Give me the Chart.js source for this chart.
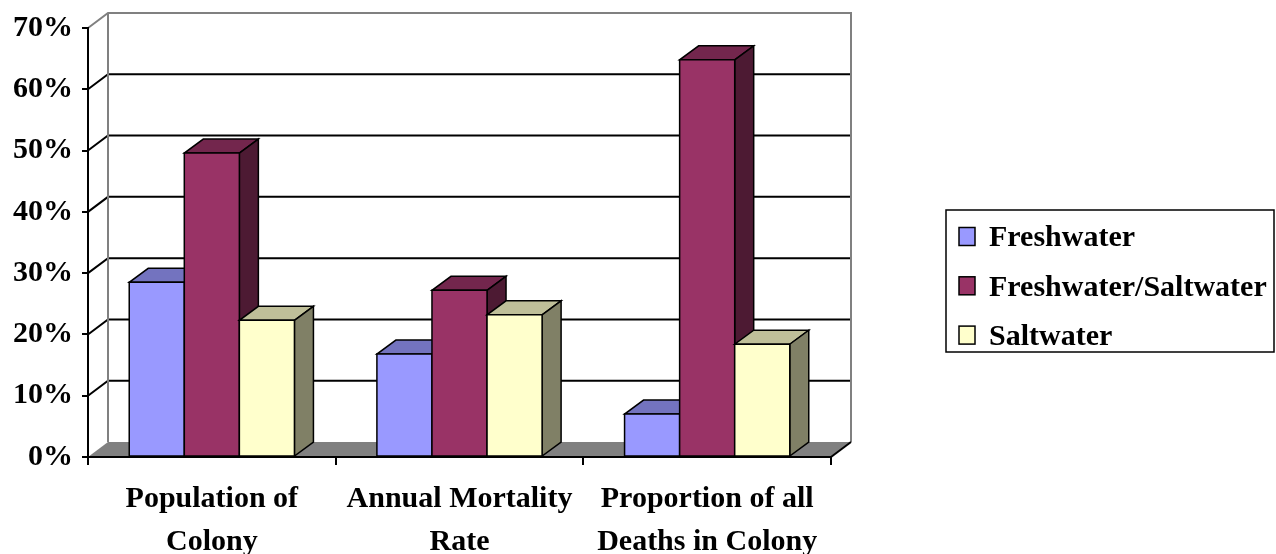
<!DOCTYPE html>
<html>
<head>
<meta charset="utf-8">
<script src="https://cdn.jsdelivr.net/npm/chart.js@4/dist/chart.umd.min.js"></script>
<style>
  html, body { margin: 0; padding: 0; background: #ffffff; }
  #wrap { width: 1276px; height: 554px; position: relative; }
</style>
</head>
<body>
<div id="wrap"><canvas id="chart" width="1276" height="554"></canvas></div>
<script>
// Category labels (two lines each) and series values, in percent
const categories = [
  ['Population of', 'Colony'],
  ['Annual Mortality', 'Rate'],
  ['Proportion of all', 'Deaths in Colony']
];
const seriesNames = ['Freshwater', 'Freshwater/Saltwater', 'Saltwater'];
const freshwater = [28.5, 16.8, 7.0];
const freshSalt = [49.6, 27.2, 64.8];
const saltwater = [22.3, 23.2, 18.4];
const yTickValues = [0, 10, 20, 30, 40, 50, 60, 70];

// Face colours for the pseudo-3D columns: front, top, side
const frontColors = ['#9999FF', '#993366', '#FFFFCC'];
const topColors = ['#7373BF', '#73264D', '#BFBF99'];
const sideColors = ['#4D4D80', '#4D1A33', '#808066'];

const FONT = "'Liberation Serif', 'Times New Roman', serif";

// Depth offsets of the walls/floor and of each column
const WALL_DX = 20, WALL_DY = -15;
const BAR_DX = 19, BAR_DY = -14;

function poly(ctx, pts, fill, stroke, lw) {
  ctx.beginPath();
  ctx.moveTo(pts[0][0], pts[0][1]);
  for (let i = 1; i < pts.length; i++) ctx.lineTo(pts[i][0], pts[i][1]);
  ctx.closePath();
  if (fill) { ctx.fillStyle = fill; ctx.fill(); }
  if (stroke) { ctx.strokeStyle = stroke; ctx.lineWidth = lw || 1; ctx.stroke(); }
}

const box3d = {
  id: 'box3d',
  beforeDraw(chart) {
    const ctx = chart.ctx;
    const a = chart.chartArea;
    const ys = chart.scales.y;
    const L = a.left, R = a.right, T = a.top, B = a.bottom;
    ctx.save();
    // floor
    poly(ctx, [[L, B], [R, B], [R + WALL_DX, B + WALL_DY], [L + WALL_DX, B + WALL_DY]], '#808080', null);
    // gridlines on the back and side walls
    ctx.strokeStyle = '#000';
    ctx.lineWidth = 2;
    yTickValues.forEach(v => {
      if (v === 0 || v === yTickValues[yTickValues.length - 1]) return;
      const y = ys.getPixelForValue(v);
      ctx.beginPath();
      ctx.moveTo(L, y);
      ctx.lineTo(L + WALL_DX, y + WALL_DY);
      ctx.lineTo(R + WALL_DX, y + WALL_DY);
      ctx.stroke();
    });
    // wall outlines
    ctx.strokeStyle = '#808080';
    ctx.lineWidth = 2;
    ctx.beginPath();
    ctx.moveTo(L, T);
    ctx.lineTo(L + WALL_DX, T + WALL_DY);
    ctx.lineTo(R + WALL_DX, T + WALL_DY);
    ctx.lineTo(R + WALL_DX, B + WALL_DY);
    ctx.moveTo(L + WALL_DX, T + WALL_DY);
    ctx.lineTo(L + WALL_DX, B + WALL_DY);
    ctx.stroke();
    // right edge of the floor
    ctx.strokeStyle = '#000';
    ctx.beginPath();
    ctx.moveTo(R, B);
    ctx.lineTo(R + WALL_DX, B + WALL_DY);
    ctx.stroke();
    ctx.restore();
  },
  beforeDatasetsDraw(chart) {
    const ctx = chart.ctx;
    const n = chart.data.labels.length;
    ctx.save();
    ctx.lineJoin = 'miter';
    for (let i = 0; i < n; i++) {
      chart.data.datasets.forEach((ds, d) => {
        const el = chart.getDatasetMeta(d).data[i];
        const p = el.getProps(['x', 'y', 'base', 'width'], true);
        const l = p.x - p.width / 2, r = p.x + p.width / 2;
        const top = p.y, bot = p.base;
        // top face
        poly(ctx, [[l, top], [r, top], [r + BAR_DX, top + BAR_DY], [l + BAR_DX, top + BAR_DY]], topColors[d], '#000', 1.5);
        // side face
        poly(ctx, [[r, top], [r + BAR_DX, top + BAR_DY], [r + BAR_DX, bot + BAR_DY], [r, bot]], sideColors[d], '#000', 1.5);
        // front face
        poly(ctx, [[l, top], [r, top], [r, bot], [l, bot]], frontColors[d], '#000', 1.5);
      });
    }
    ctx.restore();
    return false;
  },
  afterDraw(chart) {
    // legend box on the right
    const ctx = chart.ctx;
    ctx.save();
    const bx = 946, by = 210, bw = 328, bh = 142;
    ctx.strokeStyle = '#000';
    ctx.lineWidth = 1.5;
    ctx.strokeRect(bx, by, bw, bh);
    ctx.font = 'bold 30px ' + FONT;
    ctx.textBaseline = 'middle';
    ctx.textAlign = 'left';
    chart.data.datasets.forEach((ds, d) => {
      const cy = 236.5 + d * 49.3;
      ctx.fillStyle = ds.backgroundColor;
      ctx.fillRect(959, cy - 9, 16, 18);
      ctx.strokeStyle = '#000';
      ctx.lineWidth = 1.5;
      ctx.strokeRect(959, cy - 9, 16, 18);
      ctx.fillStyle = '#000';
      ctx.fillText(ds.label, 989, cy + 2);
    });
    ctx.restore();
  }
};

const seriesData = [freshwater, freshSalt, saltwater];

new Chart(document.getElementById('chart'), {
  type: 'bar',
  data: {
    labels: categories,
    datasets: seriesNames.map((name, d) => ({
      label: name,
      data: seriesData[d],
      backgroundColor: frontColors[d],
      borderColor: '#000',
      borderWidth: 1.5,
      categoryPercentage: 0.667,
      barPercentage: 1.0
    }))
  },
  options: {
    responsive: false,
    animation: false,
    devicePixelRatio: 1,
    layout: { padding: { left: 0, right: 445, top: 28, bottom: 0 } },
    plugins: { legend: { display: false }, tooltip: { enabled: false } },
    scales: {
      x: {
        afterFit(scale) { scale.height = 97; },
        grid: { display: true, drawOnChartArea: false, drawTicks: true, tickLength: 8, color: '#000', lineWidth: 2, offset: true },
        border: { display: true, color: '#000', width: 2 },
        ticks: {
          color: '#000',
          font: { family: FONT, size: 30, weight: 'bold', lineHeight: 1.43 },
          padding: 13,
          maxRotation: 0,
          autoSkip: false
        }
      },
      y: {
        min: 0,
        max: 70,
        afterFit(scale) { scale.width = 88; },
        grid: { display: true, drawOnChartArea: false, drawTicks: true, tickLength: 6, color: '#000', lineWidth: 2 },
        border: { display: true, color: '#000', width: 2 },
        ticks: {
          stepSize: 10,
          color: '#000',
          padding: 9,
          font: { family: FONT, size: 30, weight: 'bold' },
          callback: v => v + '%'
        }
      }
    }
  },
  plugins: [box3d]
});
</script>
</body>
</html>
